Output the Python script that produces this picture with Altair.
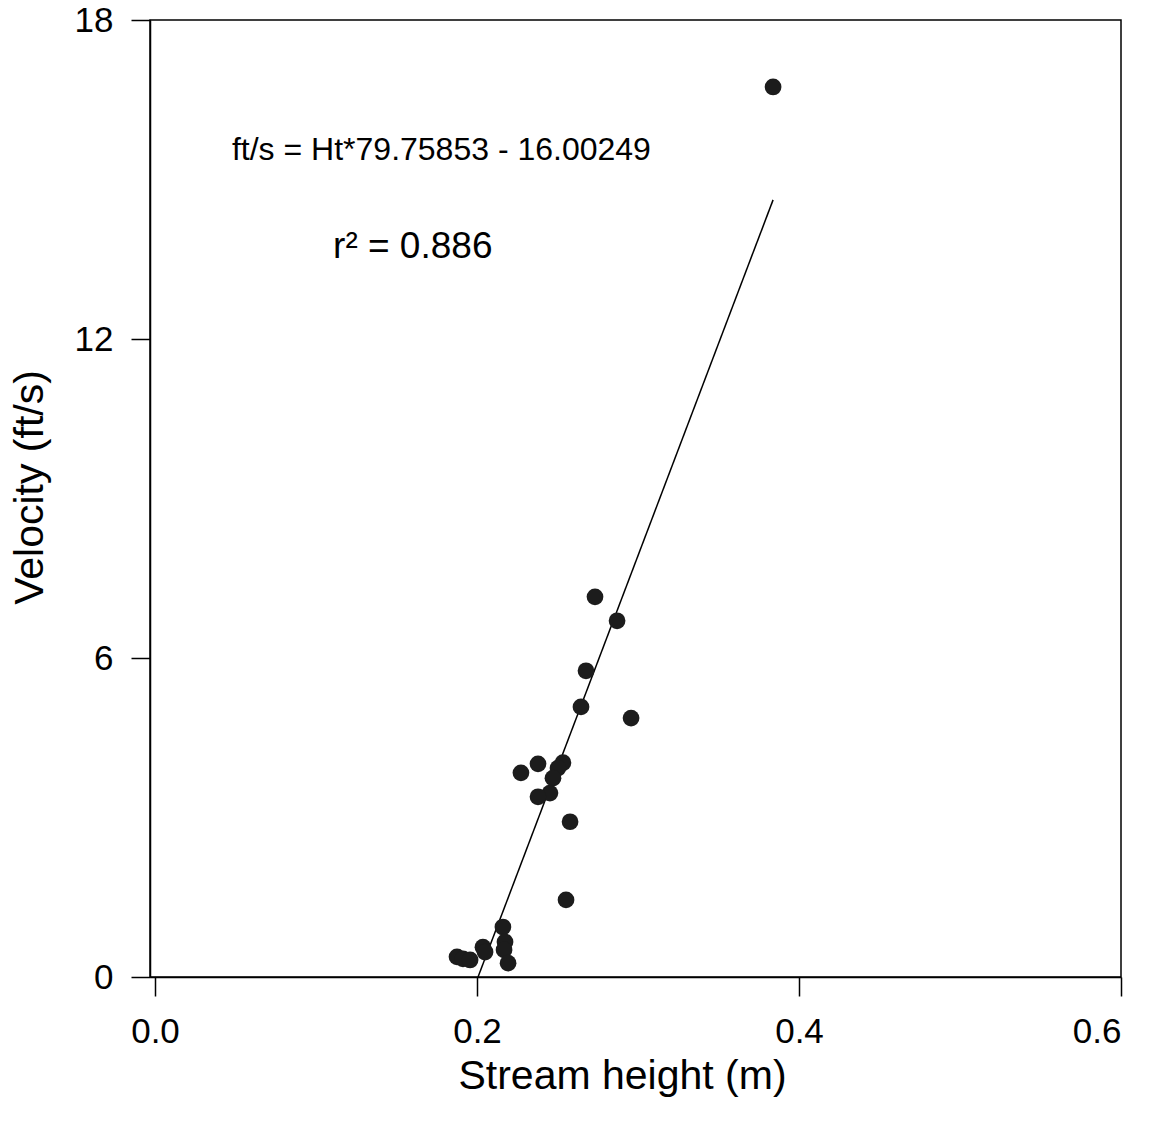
import altair as alt
import pandas as pd

# Observed data (Stream height in m, Velocity in ft/s)
height_m = [0.3839, 0.2733, 0.2870, 0.2677, 0.2646, 0.2957, 0.2273, 0.2379,
            0.2534, 0.2503, 0.2472, 0.2453, 0.2379, 0.2578, 0.2553, 0.1876,
            0.1913, 0.1957, 0.2037, 0.2050, 0.2161, 0.2174, 0.2168, 0.2193]
velocity_fts = [16.74, 7.15, 6.70, 5.76, 5.08, 4.87, 3.84, 4.01,
                4.03, 3.93, 3.74, 3.46, 3.39, 2.92, 1.45, 0.38,
                0.34, 0.32, 0.56, 0.47, 0.94, 0.66, 0.51, 0.26]

# Regression line: ft/s = Ht*79.75853 - 16.00249, drawn from y=0 to max height
slope = 79.75853
intercept = -16.00249
fit_x = [-intercept / slope, max(height_m)]
fit_y = [slope * v + intercept for v in fit_x]

eq_text = ["ft/s = Ht*79.75853 - 16.00249"]
eq_pos = [0.0478, 15.55]
r2_text = ["r\u00b2 = 0.886"]
r2_pos = [0.1106, 13.73]

x_ticks = [0.0, 0.2, 0.4, 0.6]
y_ticks = [0, 6, 12, 18]

pts = pd.DataFrame({"h": height_m, "v": velocity_fts})
fit = pd.DataFrame({"h": fit_x, "v": fit_y})
eq = pd.DataFrame({"h": [eq_pos[0]], "v": [eq_pos[1]], "t": eq_text})
r2 = pd.DataFrame({"h": [r2_pos[0]], "v": [r2_pos[1]], "t": r2_text})

FONT = "Liberation Sans"

xscale = alt.Scale(domain=[-0.0031, 0.6], nice=False, zero=False)
yscale = alt.Scale(domain=[0, 18], nice=False, zero=False)

xenc = alt.X("h:Q", scale=xscale,
             axis=alt.Axis(values=x_ticks, format=".1f", title="Stream height (m)",
                           titlePadding=7, titleX=472))
yenc = alt.Y("v:Q", scale=yscale,
             axis=alt.Axis(values=y_ticks, format="d", title="Velocity (ft/s)",
                           titlePadding=23, titleY=467))

points = alt.Chart(pts).mark_circle(size=280, color="#1c1c1c", opacity=1).encode(x=xenc, y=yenc)
line = alt.Chart(fit).mark_line(color="black", strokeWidth=1.5).encode(x="h:Q", y="v:Q")
t1 = alt.Chart(eq).mark_text(align="left", baseline="middle", font=FONT, fontSize=32,
                             color="black").encode(x="h:Q", y="v:Q", text="t:N")
t2 = alt.Chart(r2).mark_text(align="left", baseline="middle", font=FONT, fontSize=37,
                             color="black").encode(x="h:Q", y="v:Q", text="t:N")

chart = alt.layer(line, points, t1, t2).properties(
    width=971, height=957,
    autosize=alt.AutoSizeParams(type="none"),
    padding={"left": 142, "top": 12, "right": 27, "bottom": 142},
).configure_view(
    stroke="black", strokeWidth=1.5
).configure_axis(
    grid=False, domainColor="black", domainWidth=1.5, tickColor="black", tickWidth=1.5,
    tickSize=19, labelPadding=18, labelFont=FONT, labelFontSize=35, labelColor="black",
    titleFont=FONT, titleFontSize=41, titleFontWeight="normal", titleColor="black",
)

chart.save("out.html", embed_options={"renderer": "svg", "actions": False})
